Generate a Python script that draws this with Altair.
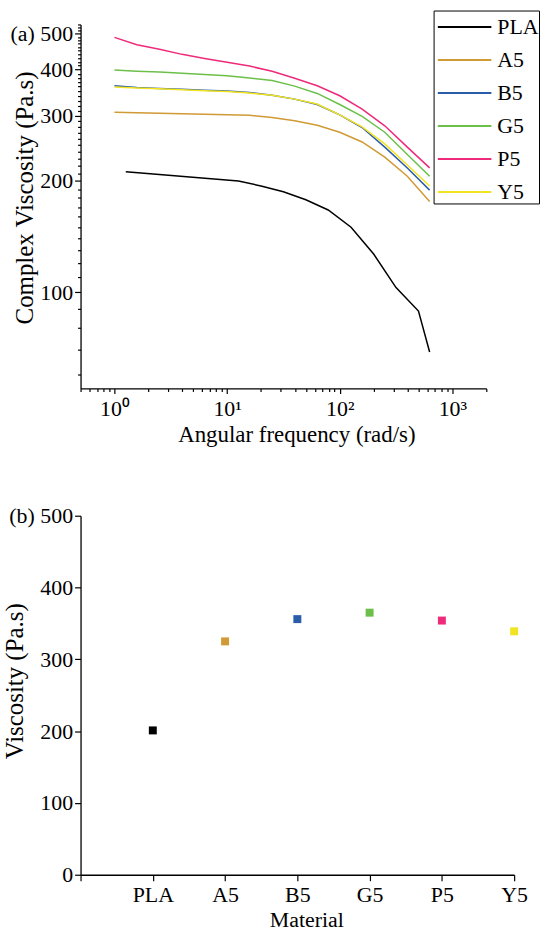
import altair as alt
import pandas as pd

# ---------------- data ----------------
materials = ["PLA", "A5", "B5", "G5", "P5", "Y5"]
colors = ["#000000", "#D09A35", "#2A5CAA", "#6CC04A", "#EE2A7B", "#F2E421"]

freq = [1, 1.58, 2.51, 3.98, 6.31, 10, 15.8, 25.1, 39.8, 63.1, 100, 158, 251, 398, 628]
pla_freq = [1.26, 12.6, 20, 31.6, 50, 79, 126, 200, 316, 500, 628]
pla_visc = [212, 200, 194, 187, 178, 167, 150, 127, 103, 89, 69]
a5_visc = [307, 306, 305, 304, 303, 302, 301, 297, 291, 283, 271, 255, 232, 206, 176]
b5_visc = [362, 358, 356, 354, 352, 350, 347, 341, 333, 322, 302, 279, 247, 217, 189]
g5_visc = [399, 396, 394, 391, 388, 385, 380, 374, 361, 345, 322, 299, 271, 236, 206]
p5_visc = [489, 467, 454, 440, 429, 419, 409, 396, 379, 362, 340, 313, 282, 247, 217]
y5_visc = [359, 357, 355, 353, 351, 349, 346, 341, 333, 323, 302, 280, 252, 221, 194]

mean_visc = [201, 325, 356, 365, 354, 339]

x_ticks = [0.5, 0.6, 0.7, 0.8, 0.9] + [k * 10 ** e for e in range(0, 3) for k in range(1, 10)] + [1000, 2000]
y_ticks = list(range(60, 531, 10))

FONT = "Liberation Serif"

# ---------------- tables ----------------
rows = [{"material": "PLA", "freq": f, "visc": v} for f, v in zip(pla_freq, pla_visc)]
for name, vals in zip(materials[1:], [a5_visc, b5_visc, g5_visc, p5_visc, y5_visc]):
    rows += [{"material": name, "freq": f, "visc": v} for f, v in zip(freq, vals)]
df_lines = pd.DataFrame(rows)

df_pts = pd.DataFrame({"material": materials,
                       "idx": list(range(1, len(materials) + 1)),
                       "visc": mean_visc})

color_scale = alt.Scale(domain=materials, range=colors)

sup = {1: "10\u2070", 10: "10\u00b9", 100: "10\u00b2", 1000: "10\u00b3"}
x_label_expr = " : ".join(f"datum.value == {k} ? '{v}'" for k, v in sup.items()) + " : ''"

# ---------------- top panel ----------------
top = alt.Chart(df_lines).mark_line(strokeWidth=1.5, clip=True).encode(
    x=alt.X("freq:Q",
            scale=alt.Scale(type="log", domain=[0.5, 2000], nice=False),
            axis=alt.Axis(values=x_ticks, labelExpr=x_label_expr, labelOverlap=False,
                          title="Angular frequency (rad/s)", titleFontSize=23,
                          titleX=217, titleAlign="center",
                          tickSize={"condition": {"test": "indexof([1,10,100,1000], datum.value) >= 0", "value": 5}, "value": 3},
                          labelPadding=5, titlePadding=4)),
    y=alt.Y("visc:Q",
            scale=alt.Scale(type="log", domain=[55, 530], nice=False),
            axis=alt.Axis(values=y_ticks, labelOverlap=False,
                          labelExpr="datum.value % 100 == 0 ? (datum.value == 500 ? '(a)\u00a0500' : datum.label) : ''",
                          tickSize={"condition": {"test": "datum.value % 100 == 0", "value": 6}, "value": 3},
                          title="Complex Viscosity (Pa.s)", titleFontSize=25,
                          titleX=-56, titleY=174, titleBaseline="middle", titleAlign="center")),
    color=alt.Color("material:N", scale=color_scale,
                    legend=alt.Legend(orient="none", legendX=355, legendY=-14,
                                      title=None, strokeColor="black", fillColor="white",
                                      padding=0, symbolType="M-0.8,0H2.72", symbolSize=936,
                                      symbolStrokeWidth=2, labelOffset=31, rowPadding=5.2,
                                      labelFont=FONT, labelFontSize=22, labelColor="black")),
    order="freq:Q",
).properties(width=408, height=366)

# ---------------- bottom panel ----------------
names_js = "[''," + ",".join(f"'{m}'" for m in materials) + "]"
bottom = alt.Chart(df_pts).mark_square(size=64, opacity=1).encode(
    x=alt.X("idx:Q", scale=alt.Scale(domain=[0, len(materials)], nice=False),
            axis=alt.Axis(values=list(range(0, len(materials) + 1)),
                          labelExpr=f"{names_js}[datum.value]", labelOverlap=False,
                          labelFlush=False, tickSize=6, labelPadding=4,
                          title="Material", titleFontSize=22, titlePadding=4,
                          titleX=227, titleAlign="center")),
    y=alt.Y("visc:Q", scale=alt.Scale(domain=[0, 500], nice=False),
            axis=alt.Axis(values=[0, 100, 200, 300, 400, 500], tickSize=6,
                          labelExpr="datum.value == 500 ? '(b)\u00a0500' : datum.label",
                          title="Viscosity (Pa.s)", titleFontSize=25, titleX=-66, titleY=166,
                          titleBaseline="middle", titleAlign="center")),
    color=alt.Color("material:N", scale=color_scale, legend=None),
).properties(width=436, height=361)

chart = alt.vconcat(top, bottom, spacing=59).resolve_scale(color="shared").properties(
    padding={"left": 3, "top": 7, "right": 0, "bottom": 0}
).configure(background="white").configure_view(stroke=None).configure_axis(
    domainColor="black", tickColor="black", labelColor="black", titleColor="black",
    domainWidth=1.3, tickWidth=1.2, grid=False,
    labelFont=FONT, labelFontSize=22, titleFont=FONT, titleFontSize=22, titleFontWeight="normal",
)

chart.save("out.html", embed_options={"renderer": "svg", "actions": False})
